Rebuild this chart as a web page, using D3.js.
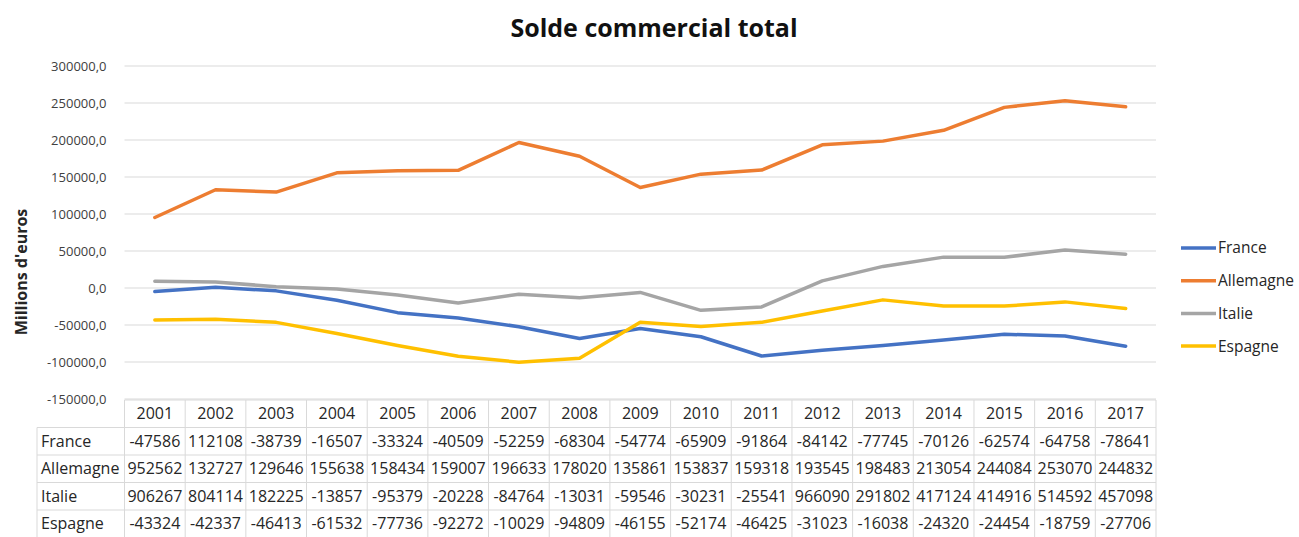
<!DOCTYPE html>
<html>
<head>
<meta charset="utf-8">
<script src="https://cdn.jsdelivr.net/npm/d3@7"></script>
<style>
  html, body { margin: 0; padding: 0; background: #fff; }
  #app { width: 1299px; height: 537px; }
  text { font-family: "Open Sans", "Liberation Sans", sans-serif; }
</style>
</head>
<body>
<div id="app"></div>
<script>
// Years and series values (millions d'euros)
const years = ["2001", "2002", "2003", "2004", "2005", "2006", "2007", "2008", "2009",
  "2010", "2011", "2012", "2013", "2014", "2015", "2016", "2017"];
const france    = [-4759, 1121, -3874, -16507, -33324, -40509, -52259, -68304, -54774,
  -65909, -91864, -84142, -77745, -70126, -62574, -64758, -78641];
const allemagne = [95256, 132727, 129646, 155638, 158434, 159007, 196633, 178020, 135861,
  153837, 159318, 193545, 198483, 213054, 244084, 253070, 244832];
const italie    = [9063, 8041, 1822, -1386, -9538, -20228, -8476, -13031, -5955,
  -30231, -25541, 9661, 29180, 41712, 41492, 51459, 45710];
const espagne   = [-43324, -42337, -46413, -61532, -77736, -92272, -100290, -94809, -46155,
  -52174, -46425, -31023, -16038, -24320, -24454, -18759, -27706];

// Text shown in the data table under the chart (as printed in the source)
const tableFrance    = ["-47586", "112108", "-38739", "-16507", "-33324", "-40509", "-52259", "-68304", "-54774",
  "-65909", "-91864", "-84142", "-77745", "-70126", "-62574", "-64758", "-78641"];
const tableAllemagne = ["952562", "132727", "129646", "155638", "158434", "159007", "196633", "178020", "135861",
  "153837", "159318", "193545", "198483", "213054", "244084", "253070", "244832"];
const tableItalie    = ["906267", "804114", "182225", "-13857", "-95379", "-20228", "-84764", "-13031", "-59546",
  "-30231", "-25541", "966090", "291802", "417124", "414916", "514592", "457098"];
const tableEspagne   = ["-43324", "-42337", "-46413", "-61532", "-77736", "-92272", "-10029", "-94809", "-46155",
  "-52174", "-46425", "-31023", "-16038", "-24320", "-24454", "-18759", "-27706"];

const yTicks = [-150000, -100000, -50000, 0, 50000, 100000, 150000, 200000, 250000, 300000];

const series = [
  {name: "France",    values: france,    table: tableFrance,    color: "#4472C4"},
  {name: "Allemagne", values: allemagne, table: tableAllemagne, color: "#ED7D31"},
  {name: "Italie",    values: italie,    table: tableItalie,    color: "#A5A5A5"},
  {name: "Espagne",   values: espagne,   table: tableEspagne,   color: "#FFC000"}
];

function drawChart(targetDiv) {
  const width = 1299, height = 537;
  const margin = {top: 66, left: 124.5, right: 143, bottom: 138};
  const svg = d3.select(targetDiv).append("svg")
    .attr("width", width)
    .attr("height", height)
    .attr("viewBox", [0, 0, width, height]);

  const x = d3.scaleBand()
    .domain(years)
    .range([margin.left, width - margin.right]);

  const y = d3.scaleLinear()
    .domain([-150000, 300000])
    .range([height - margin.bottom, margin.top]);

  // Title
  svg.append("text")
    .attr("x", 654).attr("y", 37)
    .attr("text-anchor", "middle")
    .attr("font-size", 25).attr("font-weight", 700)
    .attr("fill", "#111")
    .text("Solde commercial total");

  // Gridlines
  svg.append("g")
    .selectAll("line")
    .data(yTicks)
    .join("line")
      .attr("x1", margin.left).attr("x2", width - margin.right)
      .attr("y1", d => y(d)).attr("y2", d => y(d))
      .attr("stroke", "#d9d9d9").attr("stroke-width", 1);

  // Y axis labels
  const fmt = d => d3.format(".1f")(d).replace(".", ",").replace("−", "-");
  const yAxis = svg.append("g")
    .attr("transform", `translate(${margin.left - 15},0)`)
    .call(d3.axisLeft(y).tickValues(yTicks).tickSize(0).tickFormat(fmt));
  yAxis.select(".domain").remove();
  yAxis.selectAll("text")
    .attr("font-family", "'Open Sans', sans-serif")
    .attr("font-size", 13).attr("fill", "#404040");

  // Axis title
  svg.append("text")
    .attr("transform", "translate(27,272) rotate(-90)")
    .attr("text-anchor", "middle")
    .attr("font-size", 16).attr("font-weight", 700)
    .attr("fill", "#262626")
    .text("Millions d'euros");

  // Lines
  const line = d3.line()
    .x((d, i) => x(years[i]) + x.bandwidth() / 2)
    .y(d => y(d));

  svg.append("g")
    .selectAll("path")
    .data(series)
    .join("path")
      .attr("d", d => line(d.values))
      .attr("fill", "none")
      .attr("stroke", d => d.color)
      .attr("stroke-width", 3.5)
      .attr("stroke-linejoin", "round")
      .attr("stroke-linecap", "round");

  // Legend
  const legend = svg.append("g")
    .selectAll("g")
    .data(series)
    .join("g")
      .attr("transform", (d, i) => `translate(1181,${248 + i * 32.7})`);
  legend.append("line")
    .attr("x1", 0).attr("x2", 35)
    .attr("stroke", d => d.color).attr("stroke-width", 3.5);
  legend.append("text")
    .attr("x", 37).attr("dy", "0.35em")
    .attr("font-size", 15.5).attr("fill", "#262626")
    .text(d => d.name);

  // Data table
  const tTop = y(-150000) + 1;
  const rowH = 27.5;
  const labelLeft = 37;
  const tRight = width - margin.right;
  const grid = svg.append("g").attr("stroke", "#d9d9d9").attr("stroke-width", 1);

  // horizontal lines
  grid.append("line")
    .attr("x1", margin.left).attr("x2", tRight)
    .attr("y1", tTop).attr("y2", tTop);
  d3.range(1, series.length + 1).forEach(r => {
    grid.append("line")
      .attr("x1", labelLeft).attr("x2", tRight)
      .attr("y1", tTop + r * rowH).attr("y2", tTop + r * rowH);
  });
  // vertical lines
  grid.append("line")
    .attr("x1", labelLeft).attr("x2", labelLeft)
    .attr("y1", tTop + rowH).attr("y2", height);
  years.concat(["end"]).forEach((yr, i) => {
    const xx = i < years.length ? x(yr) : tRight;
    grid.append("line")
      .attr("x1", xx).attr("x2", xx)
      .attr("y1", tTop).attr("y2", height);
  });

  // header
  svg.append("g")
    .selectAll("text")
    .data(years)
    .join("text")
      .attr("x", d => x(d) + x.bandwidth() / 2)
      .attr("y", tTop + rowH / 2)
      .attr("dy", "0.35em")
      .attr("text-anchor", "middle")
      .attr("font-size", 16).attr("fill", "#262626")
      .text(d => d);

  // rows
  const rows = svg.append("g")
    .selectAll("g")
    .data(series)
    .join("g")
      .attr("transform", (d, i) => `translate(0,${tTop + (i + 1.5) * rowH})`);
  rows.append("text")
    .attr("x", labelLeft + 4).attr("dy", "0.35em")
    .attr("font-size", 16).attr("fill", "#262626")
    .text(d => d.name);
  rows.selectAll("text.v")
    .data(d => d.table)
    .join("text")
      .attr("class", "v")
      .attr("x", (d, i) => x(years[i]) + x.bandwidth() / 2)
      .attr("dy", "0.35em")
      .attr("text-anchor", "middle")
      .attr("font-size", 16).attr("fill", "#262626")
      .text(d => d);
}

document.addEventListener("DOMContentLoaded", () => drawChart("#app"));
</script>
</body>
</html>
